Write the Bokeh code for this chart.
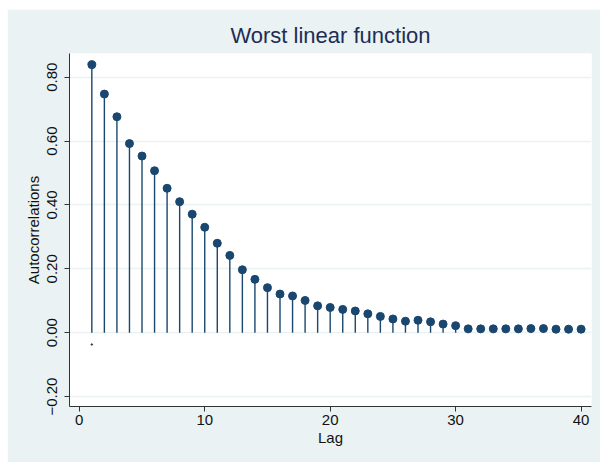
from bokeh.plotting import figure
from bokeh.models import FixedTicker, Range1d
from bokeh.embed import file_html
from bokeh.resources import INLINE

lags = list(range(1, 41))
acf = [0.839, 0.747, 0.676, 0.592, 0.553, 0.507, 0.452, 0.410, 0.371, 0.330,
       0.280, 0.242, 0.197, 0.167, 0.141, 0.121, 0.115, 0.101, 0.084, 0.079,
       0.073, 0.068, 0.059, 0.051, 0.043, 0.036, 0.039, 0.034, 0.027, 0.022,
       0.012, 0.012, 0.012, 0.012, 0.012, 0.013, 0.013, 0.011, 0.011, 0.011]
band_lag = [1]
band_low = [-0.037]
y_ticks = [-0.2, 0.0, 0.2, 0.4, 0.6, 0.8]
y_tick_labels = ["\u22120.20", "0.00", "0.20", "0.40", "0.60", "0.80"]
x_ticks = [0, 10, 20, 30, 40]

navy = "#1a476f"
bg = "#eaf2f3"

p = figure(width=593, height=453, output_backend="svg", toolbar_location=None,
           x_range=Range1d(-0.78, 40.83), y_range=Range1d(-0.231, 0.874),
           min_border_left=62, min_border_right=9, min_border_top=44, min_border_bottom=56,
           background_fill_color="white", border_fill_color=bg, outline_line_color=None,
           title="Worst linear function")
p.margin = (9, 0, 0, 7)

p.title.align = "center"
p.title.text_font = "Liberation Sans"
p.title.text_font_size = "22px"
p.title.text_font_style = "normal"
p.title.text_color = "#1e2d53"
p.title.standoff = 12

p.segment(x0=lags, y0=[0] * len(lags), x1=lags, y1=acf, line_color=navy, line_width=1.4)
p.scatter(x=lags, y=acf, size=8, color=navy)
p.scatter(x=band_lag, y=band_low, size=1.5, color="#333333")

p.xaxis.ticker = FixedTicker(ticks=x_ticks)
p.yaxis.ticker = FixedTicker(ticks=y_ticks)
p.yaxis.major_label_overrides = {t: l for t, l in zip(y_ticks, y_tick_labels)}
p.yaxis.major_label_orientation = "vertical"
p.xaxis.axis_label = "Lag"
p.yaxis.axis_label = "Autocorrelations"

for ax in (p.xaxis[0], p.yaxis[0]):
    ax.axis_line_color = "#333333"
    ax.major_tick_line_color = "#333333"
    ax.major_tick_out = 5
    ax.major_tick_in = 0
    ax.minor_tick_line_color = None
    ax.major_label_text_font = "Liberation Sans"
    ax.major_label_text_font_size = "15px"
    ax.major_label_text_color = "#111111"
    ax.axis_label_text_font = "Liberation Sans"
    ax.axis_label_text_font_size = "15px"
    ax.axis_label_text_font_style = "normal"
    ax.axis_label_text_color = "#111111"
    ax.axis_label_standoff = 1
    ax.major_label_standoff = 3

p.yaxis.major_label_standoff = 7
p.yaxis.axis_label_standoff = 3

p.xgrid.grid_line_color = None
p.ygrid.grid_line_color = bg
p.ygrid.grid_line_width = 1.5

open("out.html", "w").write(file_html(p, INLINE))
